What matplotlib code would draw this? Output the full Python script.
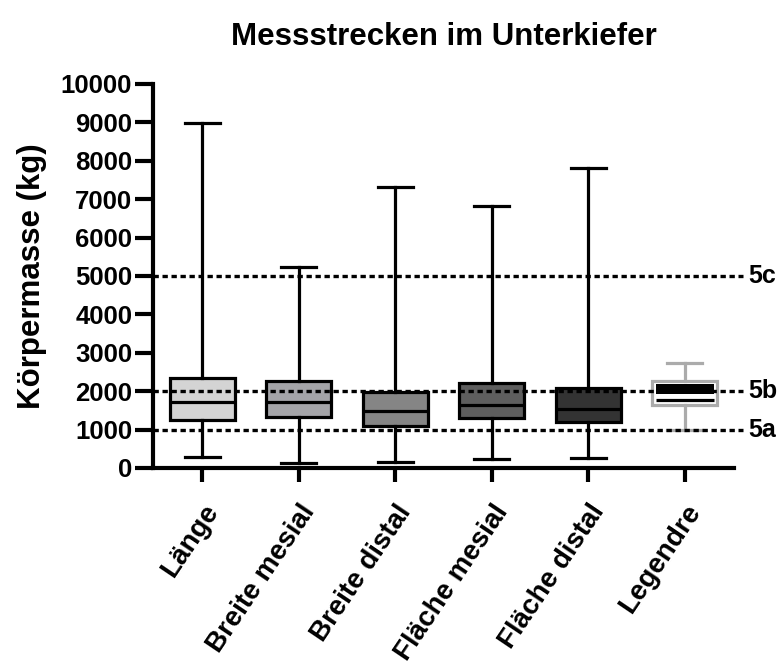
import numpy as np
import matplotlib
matplotlib.use('Agg')
import matplotlib.pyplot as plt

plt.rcParams['font.family'] = ['Liberation Sans', 'DejaVu Sans']
plt.rcParams['font.weight'] = 'bold'

# Körpermasse-Schätzungen (kg) je Messstrecke
categories = ['Länge', 'Breite mesial', 'Breite distal',
              'Fläche mesial', 'Fläche distal', 'Legendre']
whis_lo = [290, 130, 160, 240, 260, 1000]
q1 = [1240, 1330, 1100, 1300, 1210, 1630]
median = [1710, 1730, 1490, 1650, 1535, 1760]
q3 = [2340, 2265, 1980, 2210, 2080, 2260]
whis_hi = [8980, 5230, 7310, 6810, 7800, 2730]
box_colours = ['#d4d4d4', '#a4a4a8', '#858585', '#5e5e5e', '#333333', 'white']

# Legendre: schwarzer Balken im Kasten
legendre_band = (1920, 2180)

# Referenzlinien
ref_values = [1000, 2000, 5000]
ref_labels = ['5a', '5b', '5c']

fig = plt.figure(figsize=(7.83, 6.61), dpi=100)
ax = fig.add_axes([0.1954, 0.292, 0.742, 0.581])

stats = []
for i in range(len(categories)):
    stats.append(dict(label=categories[i], whislo=whis_lo[i], q1=q1[i],
                      med=median[i], q3=q3[i], whishi=whis_hi[i], fliers=[]))

pos = np.arange(len(categories))
lw = 2.3
bp = ax.bxp(stats[:5], positions=pos[:5], widths=0.67, patch_artist=True,
            showfliers=False,
            boxprops=dict(linewidth=lw, edgecolor='black'),
            medianprops=dict(linewidth=lw, color='black'),
            whiskerprops=dict(linewidth=lw, color='black'),
            capprops=dict(linewidth=lw, color='black'),
            capwidths=0.36, zorder=2)
for patch, col in zip(bp['boxes'], box_colours[:5]):
    patch.set_facecolor(col)

grey = '#ababab'
bl = ax.bxp(stats[5:], positions=pos[5:], widths=0.67, patch_artist=True,
            showfliers=False,
            boxprops=dict(linewidth=lw, edgecolor=grey, facecolor='white'),
            medianprops=dict(linewidth=lw, color='black'),
            whiskerprops=dict(linewidth=lw, color=grey),
            capprops=dict(linewidth=lw, color=grey),
            capwidths=0.36, zorder=2)
for m in bl['medians']:
    m.set_xdata([pos[5] - 0.30, pos[5] + 0.30])
ax.bar(pos[5], legendre_band[1] - legendre_band[0], bottom=legendre_band[0],
       width=0.6, color='black', zorder=3)

ax.set_xlim(-0.51, 5.51)
ax.set_ylim(0, 10000)

for v, lab in zip(ref_values, ref_labels):
    ax.plot([-0.51, 5.6], [v, v], color='black', lw=2.4,
            dashes=(1.6, 1.1), zorder=4, clip_on=False)
    ax.text(5.66, v, lab, fontsize=18, fontweight='bold',
            va='center', ha='left')

ax.set_yticks(np.arange(0, 10001, 1000))
ax.set_xticks(pos)
ax.set_xticklabels(categories, rotation=56, ha='right', va='top',
                   rotation_mode='anchor', fontsize=20, fontweight='bold')
for t in ax.get_yticklabels():
    t.set_fontsize(18.5)
    t.set_fontweight('bold')

for s in ['top', 'right']:
    ax.spines[s].set_visible(False)
for s in ['left', 'bottom']:
    ax.spines[s].set_linewidth(3)
ax.tick_params(axis='y', length=13, width=3, pad=2)
ax.tick_params(axis='x', length=10, width=3, pad=13)

ax.set_ylabel('Körpermasse (kg)', fontsize=22.5, fontweight='bold', labelpad=10)
ax.set_title('Messstrecken im Unterkiefer', fontsize=22.5, fontweight='bold',
             pad=28)

fig.savefig('out.png', dpi=100)
